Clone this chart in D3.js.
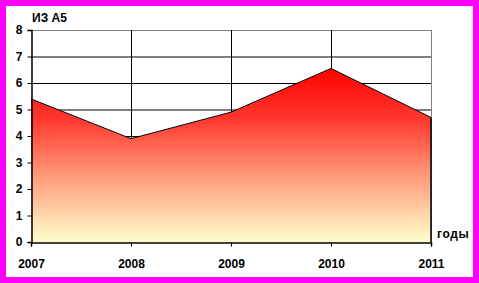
<!DOCTYPE html>
<html>
<head>
<meta charset="utf-8">
<script src="https://cdn.jsdelivr.net/npm/d3@7"></script>
<style>
  html, body { margin: 0; padding: 0; background: #fff; }
  svg { display: block; }
  text { font-family: "Liberation Sans", Arial, sans-serif; font-weight: bold; font-size: 12px; fill: #000; }
</style>
</head>
<body>
<svg id="chart"></svg>
<script>
// values
const years = [2007, 2008, 2009, 2010, 2011];
const values = [5.4, 3.9, 4.9, 6.55, 4.7];
const yTicks = [0, 1, 2, 3, 4, 5, 6, 7, 8];
const yTitle = "ИЗ А5";
const xTitle = "годы";

const W = 479, H = 283;
const plot = { left: 31, right: 431, top: 30, bottom: 242 };

const svg = d3.select("#chart").attr("width", W).attr("height", H);

// magenta frame
svg.append("rect").attr("x", 3).attr("y", 3).attr("width", W - 6).attr("height", H - 6)
    .attr("fill", "#fff").attr("stroke", "#ff00ff").attr("stroke-width", 6);

const x = d3.scalePoint().domain(years).range([plot.left, plot.right]);
const y = d3.scaleLinear().domain([0, 8]).range([plot.bottom, plot.top]);

// gradient for the area (red on top, pale yellow at the bottom)
const grad = svg.append("defs").append("linearGradient")
    .attr("id", "fillGrad").attr("x1", 0).attr("y1", 0).attr("x2", 0).attr("y2", 1);
grad.append("stop").attr("offset", "0%").attr("stop-color", "#ff0000");
grad.append("stop").attr("offset", "30%").attr("stop-color", "#ff3a30");
grad.append("stop").attr("offset", "60%").attr("stop-color", "#ff9575");
grad.append("stop").attr("offset", "100%").attr("stop-color", "#ffffcc");

// horizontal gridlines
svg.append("g").selectAll("line").data(yTicks.filter(d => d > 0))
  .join("line")
    .attr("x1", plot.left).attr("x2", plot.right)
    .attr("y1", d => y(d) + 0.5).attr("y2", d => y(d) + 0.5)
    .attr("stroke", d => d === 8 ? "#808080" : "#000").attr("stroke-width", 1);

// vertical gridlines
svg.append("g").selectAll("line").data(years.slice(1, -1))
  .join("line")
    .attr("x1", d => x(d) + 0.5).attr("x2", d => x(d) + 0.5)
    .attr("y1", plot.top).attr("y2", plot.bottom)
    .attr("stroke", "#000").attr("stroke-width", 1);

// right border of plot (grey)
svg.append("line")
    .attr("x1", plot.right + 0.5).attr("x2", plot.right + 0.5)
    .attr("y1", plot.top).attr("y2", plot.bottom)
    .attr("stroke", "#808080");

const pts = years.map((yr, i) => ({ yr, v: values[i] }));

const area = d3.area()
    .x(d => x(d.yr))
    .y0(y(0))
    .y1(d => y(d.v));

svg.append("path").datum(pts)
    .attr("d", area)
    .attr("fill", "url(#fillGrad)");

// outline on top and right
const line = d3.line().x(d => x(d.yr)).y(d => y(d.v));
svg.append("path").datum(pts)
    .attr("d", line)
    .attr("fill", "none").attr("stroke", "#000").attr("stroke-width", 1);
svg.append("line")
    .attr("x1", plot.right).attr("x2", plot.right)
    .attr("y1", y(values[values.length - 1])).attr("y2", plot.bottom)
    .attr("stroke", "#000").attr("stroke-width", 1.5);

// y axis
const yAxis = svg.append("g")
    .attr("transform", `translate(${plot.left + 0.5},0)`)
    .call(d3.axisLeft(y).tickValues(yTicks).tickSize(4).tickPadding(5).tickFormat(d3.format("d")));
yAxis.select(".domain").attr("stroke", "#000").attr("stroke-width", 1.5);
yAxis.selectAll(".tick line").attr("stroke", "#000");
yAxis.selectAll("text").attr("font-size", 12).attr("font-family", "Liberation Sans, Arial, sans-serif").attr("font-weight", "bold");

// x axis
const xAxis = svg.append("g")
    .attr("transform", `translate(0,${plot.bottom + 0.5})`)
    .call(d3.axisBottom(x).tickSize(4).tickPadding(13).tickFormat(d3.format("d")));
xAxis.select(".domain").attr("stroke", "#000").attr("stroke-width", 1.5);
xAxis.selectAll(".tick line").attr("stroke", "#000");
xAxis.selectAll("text").attr("font-size", 12).attr("font-family", "Liberation Sans, Arial, sans-serif").attr("font-weight", "bold");

// titles
svg.append("text").attr("x", 32).attr("y", 22).text(yTitle);
svg.append("text").attr("x", 437).attr("y", 238).text(xTitle).attr("letter-spacing", 0.6);
</script>
</body>
</html>
